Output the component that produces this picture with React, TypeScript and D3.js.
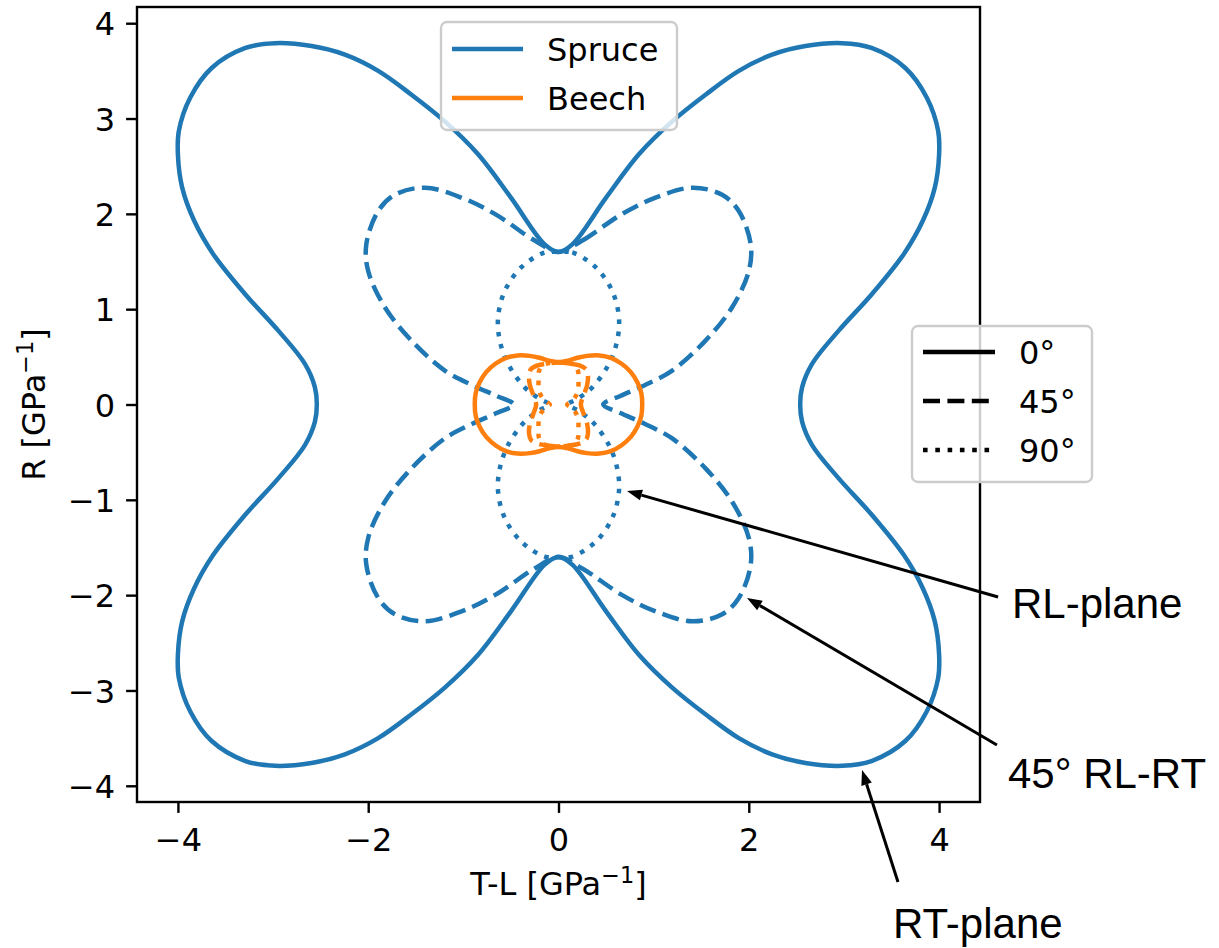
import { useEffect, useRef } from 'react'
import * as d3 from 'd3'

type Pt = [number, number]

const X_TICKS = [-4, -2, 0, 2, 4]
const Y_TICKS = [-4, -3, -2, -1, 0, 1, 2, 3, 4]
const X_DOMAIN: [number, number] = [-4.43, 4.43]
const Y_DOMAIN: [number, number] = [-4.17, 4.17]

const SPECIES = ['Spruce', 'Beech']
const SPECIES_COLORS = ['#1f77b4', '#ff7f0e']
const ANGLES = ['0°', '45°', '90°']

// first-quadrant traces: from the R axis (top) round to the T-L axis
const spruce0: Pt[] = [
  [0, 1.6], [0.145, 1.68], [0.5, 2.17], [0.845, 2.625], [1.195, 2.97], [1.545, 3.25],
  [1.895, 3.5], [2.245, 3.67], [2.595, 3.76], [2.98, 3.79], [3.29, 3.74], [3.645, 3.53],
  [3.87, 3.22], [3.99, 2.87], [4.0, 2.62], [3.955, 2.275], [3.83, 1.93], [3.63, 1.58],
  [3.295, 1.16], [2.945, 0.775], [2.665, 0.426], [2.56, 0.18], [2.54, 0],
]
const spruce45: Pt[] = [
  [0, 1.6], [0.25, 1.72], [0.67, 2.0], [1.02, 2.17], [1.405, 2.275], [1.72, 2.2],
  [1.895, 2.03], [2.02, 1.68], [2.0, 1.4], [1.825, 1.02], [1.545, 0.67], [1.195, 0.356],
  [0.9, 0.2], [0.65, 0.09], [0.47, 0],
]
const spruce90: Pt[] = [
  [0, 1.6], [0.145, 1.595], [0.39, 1.44], [0.565, 1.19], [0.635, 0.914], [0.617, 0.67],
  [0.53, 0.426], [0.355, 0.18], [0.2, 0.06], [0.1, 0],
]
const beech0: Pt[] = [
  [0, 0.445], [0.1, 0.46], [0.2, 0.49], [0.3, 0.51], [0.43, 0.515], [0.55, 0.49],
  [0.66, 0.43], [0.76, 0.34], [0.83, 0.23], [0.87, 0.12], [0.88, 0],
]
const beech45: Pt[] = [
  [0, 0.44], [0.12, 0.43], [0.22, 0.41], [0.29, 0.37], [0.31, 0.3], [0.3, 0.2],
  [0.265, 0.1], [0.235, 0],
]
const beech90: Pt[] = [
  [0, 0.44], [0.1, 0.435], [0.17, 0.41], [0.205, 0.35], [0.21, 0.25], [0.205, 0.15],
  [0.17, 0.07], [0.12, 0.025], [0.09, 0],
]

const SPRUCE_CURVES = [spruce0, spruce45, spruce90]
const BEECH_CURVES = [beech0, beech45, beech90]

const ANNOTATIONS: { label: string; tip: Pt; tail: Pt; text: Pt }[] = [
  { label: 'RL-plane', tip: [0.72, -0.907], tail: [4.62, -2.02], text: [4.766, -2.24] },
  { label: '45° RL-RT', tip: [1.981, -2.03], tail: [4.608, -3.572], text: [4.724, -4.023] },
  { label: 'RT-plane', tip: [3.19, -3.834], tail: [3.568, -5.009], text: [3.515, -5.6] },
]

const W = 1219
const H = 948
const FONT = '"DejaVu Sans", sans-serif'
const FS = 32
const LW = 4.5
const DASHES = [null, '17,7.4', '4.6,7.7']

// build the full closed curve from the first quadrant by mirroring
function mirror(q: Pt[]): Pt[] {
  const n = q.length
  const q4 = q.slice(0, n - 1).reverse().map(([x, y]) => [x, -y] as Pt)
  const q3 = q.slice(1).map(([x, y]) => [-x, -y] as Pt)
  const q2 = q.slice(1, n - 1).reverse().map(([x, y]) => [-x, y] as Pt)
  return [...q, ...q4, ...q3, ...q2]
}

export default function App() {
  const svgRef = useRef<SVGSVGElement>(null)

  useEffect(() => {
    if (!svgRef.current) return
    const svg = d3.select(svgRef.current)
    svg.selectAll('*').remove()

    const margin = { top: 7, right: 239, bottom: 146, left: 137 }
    const x = d3.scaleLinear().domain(X_DOMAIN).range([margin.left, W - margin.right])
    const y = d3.scaleLinear().domain(Y_DOMAIN).range([H - margin.bottom, margin.top])

    svg.append('rect').attr('width', W).attr('height', H).attr('fill', '#fff')

    const line = d3
      .line<Pt>()
      .x((d) => x(d[0]))
      .y((d) => y(d[1]))
      .curve(d3.curveCatmullRomClosed.alpha(0.5))

    const drawSet = (curves: Pt[][], color: string) => {
      curves.forEach((q, i) => {
        const p = svg
          .append('path')
          .datum(mirror(q))
          .attr('fill', 'none')
          .attr('stroke', color)
          .attr('stroke-width', LW)
          .attr('stroke-linejoin', 'round')
          .attr('d', line)
        if (DASHES[i]) p.attr('stroke-dasharray', DASHES[i]!)
      })
    }
    drawSet(SPRUCE_CURVES, SPECIES_COLORS[0])
    drawSet(BEECH_CURVES, SPECIES_COLORS[1])

    // frame
    svg
      .append('rect')
      .attr('x', x(X_DOMAIN[0]))
      .attr('y', y(Y_DOMAIN[1]))
      .attr('width', x(X_DOMAIN[1]) - x(X_DOMAIN[0]))
      .attr('height', y(Y_DOMAIN[0]) - y(Y_DOMAIN[1]))
      .attr('fill', 'none')
      .attr('stroke', '#000')
      .attr('stroke-width', 2.4)

    const fmt = (d: d3.NumberValue) => d3.format('d')(d as number).replace('-', '−')

    svg
      .append('g')
      .attr('transform', `translate(0,${y(Y_DOMAIN[0])})`)
      .call(d3.axisBottom(x).tickValues(X_TICKS).tickSize(10.9).tickPadding(10.9).tickFormat(fmt))
      .call((g) => {
        g.select('.domain').remove()
        g.selectAll('.tick line').attr('stroke', '#000').attr('stroke-width', 2.4)
        g.selectAll('.tick text')
          .attr('fill', '#000')
          .attr('font-family', FONT)
          .attr('font-size', FS)
          .attr('dy', '0.85em')
      })

    svg
      .append('g')
      .attr('transform', `translate(${x(X_DOMAIN[0])},0)`)
      .call(d3.axisLeft(y).tickValues(Y_TICKS).tickSize(10.9).tickPadding(10.9).tickFormat(fmt))
      .call((g) => {
        g.select('.domain').remove()
        g.selectAll('.tick line').attr('stroke', '#000').attr('stroke-width', 2.4)
        g.selectAll('.tick text')
          .attr('fill', '#000')
          .attr('font-family', FONT)
          .attr('font-size', FS)
          .attr('dy', '0.36em')
      })

    // axis labels
    const addLabel = (g: d3.Selection<SVGTextElement, unknown, null, undefined>, head: string) => {
      g.attr('font-family', FONT).attr('font-size', FS).attr('text-anchor', 'middle').attr('fill', '#000')
      g.append('tspan').text(head)
      g.append('tspan').attr('font-size', FS * 0.7).attr('dy', -12).text('−1')
      g.append('tspan').attr('dy', 12).text(']')
    }
    addLabel(svg.append('text').attr('x', (x(X_DOMAIN[0]) + x(X_DOMAIN[1])) / 2).attr('y', 895), 'T-L [GPa')
    addLabel(
      svg.append('text').attr('transform', `translate(45,${y(0)}) rotate(-90)`),
      'R [GPa',
    )

    // legends
    const legend = (
      box: [number, number, number, number],
      rows: { label: string; color: string; dash: string | null }[],
      lineX: [number, number],
      textX: number,
      rowY: number[],
    ) => {
      svg
        .append('rect')
        .attr('x', box[0])
        .attr('y', box[1])
        .attr('width', box[2])
        .attr('height', box[3])
        .attr('rx', 6)
        .attr('fill', '#fff')
        .attr('fill-opacity', 0.8)
        .attr('stroke', '#cccccc')
        .attr('stroke-width', 2.4)
      rows.forEach((r, i) => {
        const l = svg
          .append('line')
          .attr('x1', lineX[0])
          .attr('x2', lineX[1])
          .attr('y1', rowY[i])
          .attr('y2', rowY[i])
          .attr('stroke', r.color)
          .attr('stroke-width', LW)
        if (r.dash) l.attr('stroke-dasharray', r.dash)
        svg
          .append('text')
          .attr('x', textX)
          .attr('y', rowY[i] + 11.5)
          .attr('font-family', FONT)
          .attr('font-size', FS)
          .attr('fill', '#000')
          .text(r.label)
      })
    }
    legend(
      [441, 22, 236, 108],
      SPECIES.map((s, i) => ({ label: s, color: SPECIES_COLORS[i], dash: null })),
      [452, 523],
      547,
      [49, 98],
    )
    legend(
      [912, 326, 180, 156],
      ANGLES.map((a, i) => ({ label: a, color: '#000', dash: DASHES[i] })),
      [923, 995],
      1019,
      [352, 401, 450],
    )

    // annotations
    ANNOTATIONS.forEach((a) => {
      const tx = x(a.tip[0])
      const ty = y(a.tip[1])
      const sx = x(a.tail[0])
      const sy = y(a.tail[1])
      const len = Math.hypot(tx - sx, ty - sy)
      const ux = (tx - sx) / len
      const uy = (ty - sy) / len
      const hl = 15
      const hw = 5.5
      const bx = tx - ux * hl
      const by = ty - uy * hl
      svg
        .append('line')
        .attr('x1', sx)
        .attr('y1', sy)
        .attr('x2', bx)
        .attr('y2', by)
        .attr('stroke', '#000')
        .attr('stroke-width', 3)
      svg
        .append('path')
        .attr('d', `M${tx},${ty}L${bx - uy * hw},${by + ux * hw}L${bx + uy * hw},${by - ux * hw}Z`)
        .attr('fill', '#000')
      svg
        .append('text')
        .attr('x', x(a.text[0]))
        .attr('y', y(a.text[1]))
        .attr('font-family', '"Liberation Sans", Arial, sans-serif')
        .attr('font-size', 42)
        .attr('fill', '#000')
        .text(a.label)
    })
  }, [])

  return (
    <svg
      ref={svgRef}
      width={W}
      height={H}
      style={{ position: 'absolute', left: 0, top: 0, display: 'block' }}
    />
  )
}
